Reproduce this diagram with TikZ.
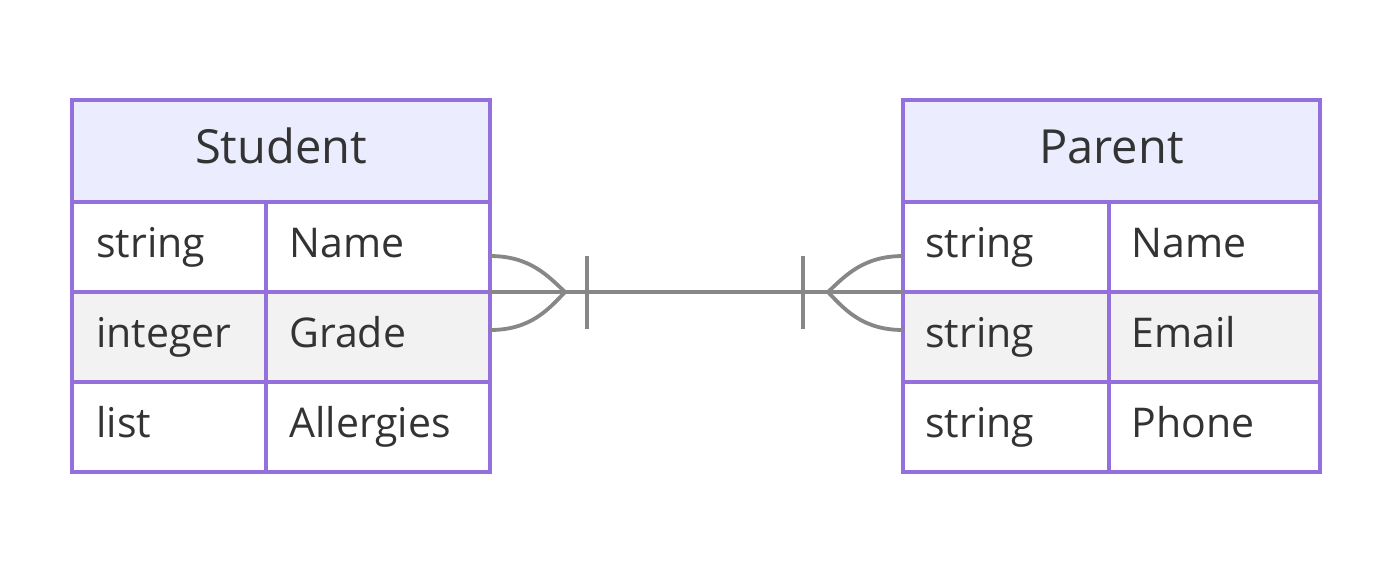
\documentclass[tikz,border=0pt]{standalone}
\usepackage{fontspec}
\setmainfont{Open Sans}
\usetikzlibrary{calc}
\definecolor{erborder}{HTML}{9370DB}
\definecolor{hdr}{HTML}{ECECFF}
\definecolor{alt}{HTML}{F2F2F2}
\definecolor{txt}{HTML}{333333}
\definecolor{relc}{HTML}{878787}
\begin{document}
\begin{tikzpicture}[x=0.5pt,y=-0.5pt,
  cell/.style={draw=erborder,line width=1.6pt,anchor=north west,outer sep=0pt,
    minimum height=45pt,inner sep=0pt},
  head/.style={draw=erborder,line width=1.6pt,anchor=north west,outer sep=0pt,
    minimum height=51pt,inner sep=0pt,fill=hdr},
  lbl/.style={anchor=base west,inner sep=0pt,text=txt,font=\fontsize{20.5}{20.5}\selectfont},
  hlbl/.style={anchor=base,inner sep=0pt,text=txt,font=\fontsize{23.5}{23.5}\selectfont},
  rel/.style={draw=relc,line width=1.9pt}]
\path[use as bounding box,fill=white] (0,0) rectangle (1400,570);

% Student entity
\node[head,minimum width=209pt] (sh) at (72,100) {};
\node[cell,fill=white,minimum width=97pt] (s1t) at (72,202) {};
\node[cell,fill=white,minimum width=112pt] (s1n) at (266,202) {};
\node[cell,fill=alt,minimum width=97pt] (s2t) at (72,292) {};
\node[cell,fill=alt,minimum width=112pt] (s2n) at (266,292) {};
\node[cell,fill=white,minimum width=97pt] (s3t) at (72,382) {};
\node[cell,fill=white,minimum width=112pt] (s3n) at (266,382) {};
\node[hlbl] (shL) at ($(sh.south)+(0,-38.5)$) {Student};
\node[lbl] (s1tL) at ($(s1t.south west)+(24,-35)$) {string};
\node[lbl] (s1nL) at ($(s1n.south west)+(23,-35)$) {Name};
\node[lbl] (s2tL) at ($(s2t.south west)+(24,-35)$) {integer};
\node[lbl] (s2nL) at ($(s2n.south west)+(23,-35)$) {Grade};
\node[lbl] (s3tL) at ($(s3t.south west)+(24,-35)$) {list};
\node[lbl] (s3nL) at ($(s3n.south west)+(23,-35)$) {Allergies};

% Parent entity
\node[head,minimum width=208.5pt] (ph) at (903,100) {};
\node[cell,fill=white,minimum width=103pt] (p1t) at (903,202) {};
\node[cell,fill=white,minimum width=105.5pt] (p1n) at (1109,202) {};
\node[cell,fill=alt,minimum width=103pt] (p2t) at (903,292) {};
\node[cell,fill=alt,minimum width=105.5pt] (p2n) at (1109,292) {};
\node[cell,fill=white,minimum width=103pt] (p3t) at (903,382) {};
\node[cell,fill=white,minimum width=105.5pt] (p3n) at (1109,382) {};
\node[hlbl] (phL) at ($(ph.south)+(0,-38.5)$) {Parent};
\node[lbl] (p1tL) at ($(p1t.south west)+(22,-35)$) {string};
\node[lbl] (p1nL) at ($(p1n.south west)+(22,-35)$) {Name};
\node[lbl] (p2tL) at ($(p2t.south west)+(22,-35)$) {string};
\node[lbl] (p2nL) at ($(p2n.south west)+(22,-35)$) {Email};
\node[lbl] (p3tL) at ($(p3t.south west)+(22,-35)$) {string};
\node[lbl] (p3nL) at ($(p3n.south west)+(22,-35)$) {Phone};

% relationship
\coordinate (lft) at (565,292);
\coordinate (rft) at (828,292);
\coordinate (lbt) at (587,256);
\coordinate (lbb) at (587,329);
\coordinate (rbt) at (803,256);
\coordinate (rbb) at (803,329);
\draw[rel] (s1n.south east) -- (p1t.south west);
\draw[rel] ($(s1n.south east)+(0,-36)$) .. controls (530,256) and (548,276) .. (lft)
  .. controls (548,310) and (530,330) .. ($(s1n.south east)+(0,38)$);
\draw[rel] (lbt) -- (lbb);
\draw[rel] ($(p1t.south west)+(0,-36)$) .. controls (863,256) and (845,276) .. (rft)
  .. controls (845,310) and (863,330) .. ($(p1t.south west)+(0,38)$);
\draw[rel] (rbt) -- (rbb);
\end{tikzpicture}
\end{document}
